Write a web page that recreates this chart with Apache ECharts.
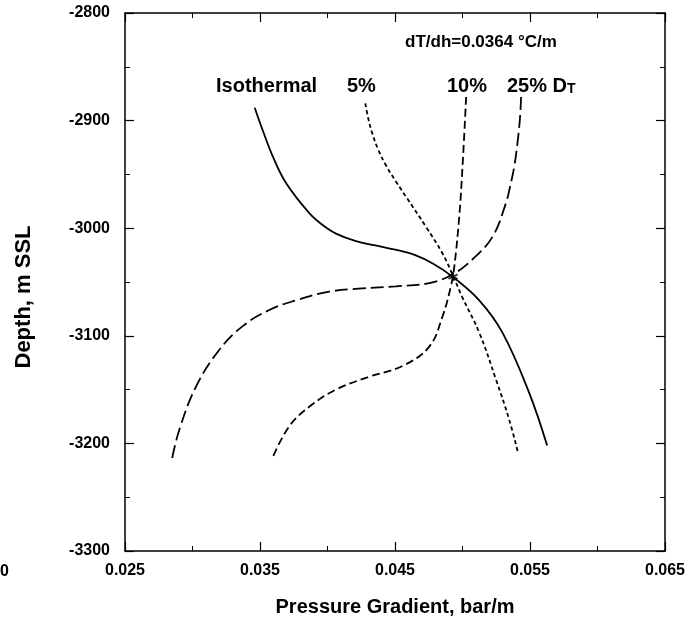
<!DOCTYPE html>
<html>
<head>
<meta charset="utf-8">
<script src="https://cdn.jsdelivr.net/npm/echarts@6/dist/echarts.min.js"></script>
<style>
  html, body { margin: 0; padding: 0; background: #fff; }
  #chart { width: 699px; height: 618px; }
</style>
</head>
<body>
<div id="chart"></div>
<script>
// pressure gradient (bar/m) against depth (m SSL)
const isoGrad = [0.03461, 0.0352, 0.03594, 0.03693, 0.03865, 0.03964, 0.04063, 0.04211, 0.04354, 0.04502, 0.0465, 0.04783, 0.04926, 0.05124, 0.05296, 0.05494, 0.05627]
const isoDepth = [-2888, -2909, -2933, -2958, -2986, -2997, -3005, -3012, -3016, -3020, -3025, -3033, -3045, -3067, -3097, -3153, -3202]

const p5Grad = [0.0428, 0.04302, 0.04332, 0.04376, 0.04435, 0.04509, 0.04583, 0.04731, 0.0485, 0.04926, 0.04998, 0.05124, 0.05249, 0.05346, 0.05412]
const p5Depth = [-2884, -2898, -2912, -2927, -2942, -2957, -2971, -2999, -3023, -3043, -3064, -3097, -3141, -3178, -3209]

const p10Grad = [0.05027, 0.0500, 0.04976, 0.04939, 0.04914, 0.04852, 0.04754, 0.04556, 0.0431, 0.04063, 0.03865, 0.03717, 0.03594]
const p10Depth = [-2878, -2943, -2989, -3036, -3054, -3082, -3110, -3128, -3138, -3150, -3166, -3184, -3213]

const p25Grad = [0.05434, 0.05425, 0.05407, 0.05383, 0.05353, 0.05321, 0.05222, 0.05074, 0.04926, 0.04754, 0.04507, 0.0426, 0.04013, 0.03767, 0.03569, 0.03372, 0.03199, 0.03027, 0.02903, 0.02849]
const p25Depth = [-2878, -2899, -2921, -2943, -2961, -2977, -3008, -3029, -3043, -3051, -3054, -3056, -3059, -3067, -3076, -3091, -3113, -3147, -3187, -3214]

const crossPoint = [0.0493, -3045]

const xTicks = [0.025, 0.035, 0.045, 0.055, 0.065]
const yTicks = [-3300, -3200, -3100, -3000, -2900, -2800]

const zip = (xs, ys) => xs.map((x, i) => [x, ys[i]])

const FONT = '"Liberation Sans", Arial, Helvetica, sans-serif'
const black = '#000'

const chart = echarts.init(document.getElementById('chart'), null, { renderer: 'canvas' })

const tickStyle = {
    axisLine: { show: true, onZero: false, lineStyle: { color: black, width: 1.5 } },
    axisTick: { show: true, inside: true, length: 9, lineStyle: { color: black, width: 1.2 } },
    minorTick: { show: true, splitNumber: 2, length: 5, lineStyle: { color: black, width: 1 } },
    splitLine: { show: false },
    minorSplitLine: { show: false }
}

const xBase = {
    type: 'value',
    min: xTicks[0],
    max: xTicks[xTicks.length - 1],
    interval: 0.01
}
const yBase = {
    type: 'value',
    min: yTicks[0],
    max: yTicks[yTicks.length - 1],
    interval: 100
}

const curveLine = (name, grad, depth, type) => ({
    name: name,
    type: 'line',
    data: zip(grad, depth),
    smooth: 0.4,
    symbol: 'none',
    clip: true,
    lineStyle: { color: black, width: 1.8, type: type },
    z: 3
})

const label = (text, x, y, size) => ({
    type: 'text',
    x: x,
    y: y,
    style: {
        text: text,
        font: 'bold ' + size + 'px ' + FONT,
        fill: black,
        textVerticalAlign: 'middle'
    }
})

const option = {
    animation: false,
    backgroundColor: '#fff',
    grid: {
        left: 125,
        right: 34,
        top: 13,
        bottom: 67,
        containLabel: false,
        outerBoundsMode: 'none'
    },
    xAxis: [
        Object.assign({}, xBase, tickStyle, {
            position: 'bottom',
            name: 'Pressure Gradient, bar/m',
            nameLocation: 'middle',
            nameGap: 46,
            nameTextStyle: { color: black, fontSize: 20, fontWeight: 'bold', fontFamily: FONT },
            axisLabel: {
                color: black, fontSize: 16, fontWeight: 'bold', fontFamily: FONT, margin: 12,
                formatter: v => v.toFixed(3)
            }
        }),
        Object.assign({}, xBase, tickStyle, {
            position: 'top',
            axisLabel: { show: false }
        })
    ],
    yAxis: [
        Object.assign({}, yBase, tickStyle, {
            position: 'left',
            axisLabel: {
                color: black, fontSize: 16, fontWeight: 'bold', fontFamily: FONT, margin: 15,
                formatter: v => String(v)
            }
        }),
        Object.assign({}, yBase, tickStyle, {
            position: 'right',
            axisLabel: { show: false }
        })
    ],
    graphic: [
        {
            type: 'text',
            x: 24,
            y: 297,
            rotation: Math.PI / 2,
            style: {
                text: 'Depth, m SSL',
                font: 'bold 22px ' + FONT,
                fill: black,
                textAlign: 'center',
                textVerticalAlign: 'middle'
            }
        },
        label('Isothermal', 216, 86, 20),
        label('5%', 347, 86, 20),
        label('10%', 447, 86, 20),
        {
            type: 'text',
            x: 507,
            y: 86,
            style: {
                text: '25% D{s|T}',
                font: 'bold 20px ' + FONT,
                fill: black,
                textVerticalAlign: 'middle',
                rich: {
                    s: { font: 'bold 14px ' + FONT, fill: black, padding: [6, 0, 0, 0] }
                }
            }
        },
        label('dT/dh=0.0364 °C/m', 405, 42, 17),
        {
            type: 'text',
            x: 9,
            y: 572,
            style: {
                text: '0',
                font: 'bold 16px ' + FONT,
                fill: black,
                textAlign: 'right',
                textVerticalAlign: 'middle'
            }
        }
    ],
    series: [
        curveLine('Isothermal', isoGrad, isoDepth, 'solid'),
        curveLine('5%', p5Grad, p5Depth, [4, 3]),
        curveLine('10%', p10Grad, p10Depth, [8, 4]),
        curveLine('25% DT', p25Grad, p25Depth, [13, 5]),
        {
            name: 'crossing',
            type: 'scatter',
            data: [crossPoint],
            symbol: 'path://M0,-10L0,10M-8.7,-5L8.7,5M-8.7,5L8.7,-5',
            symbolSize: 9,
            itemStyle: { color: 'none', borderColor: black, borderWidth: 1.8 },
            z: 4
        }
    ]
}

chart.setOption(option)
</script>
</body>
</html>
